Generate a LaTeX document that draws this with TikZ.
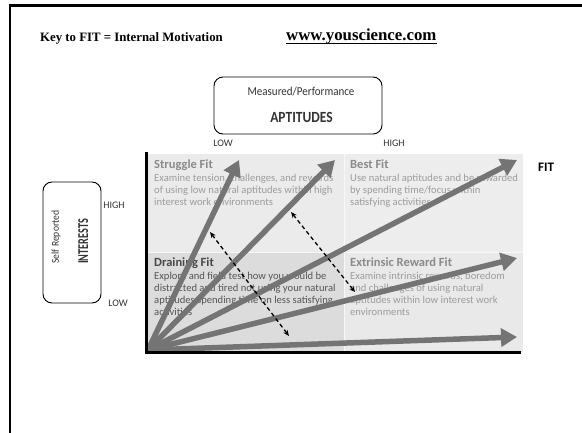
\documentclass[tikz,border=0pt]{standalone}
\usepackage{fontspec}
\setmainfont{Liberation Serif}
\newfontfamily\calib{Carlito}
\usetikzlibrary{arrows.meta}
\definecolor{qlt}{HTML}{EBEBEB}
\definecolor{qrt}{HTML}{EDEDED}
\definecolor{qlb}{HTML}{DCDCDC}
\definecolor{qrb}{HTML}{E9E9E9}
\definecolor{fitarrow}{HTML}{747474}
\definecolor{qtitle}{HTML}{8A8A8A}
\definecolor{qbody}{HTML}{9C9C9C}
\definecolor{dtitle}{HTML}{474747}
\definecolor{dbody}{HTML}{555555}
\tikzset{
  fitarr/.style={draw=fitarrow,line width=5.5pt,-{Triangle[length=16pt,width=18pt]}},
  dasharr/.style={draw=black,line width=1.3pt,dash pattern=on 4pt off 3pt,{Stealth[length=6pt,width=5pt]}-{Stealth[length=6pt,width=5pt]}},
  keybox/.style={draw=black,line width=0.9pt,rounded corners=9pt,inner sep=0pt},
  qtitlefont/.style={font=\calib\bfseries\fontsize{12.5}{14}\selectfont},
  qbodyfont/.style={font=\calib\fontsize{10.6}{12}\selectfont,align=left},
  axlab/.style={font=\calib\fontsize{10}{12}\selectfont,text=black!80},
}
\begin{document}
\begin{tikzpicture}[x=1pt,y=-1pt]
\useasboundingbox (0,0) rectangle (582,433);
% frame
\draw[line width=2.5pt] (10,433) -- (10,5.5) -- (582,5.5);
% header
\node[anchor=base west,inner sep=0pt,font=\bfseries\fontsize{12.8}{15}\selectfont] (key) at (40,42) {Key to FIT = Internal Motivation};
\node[anchor=base west,inner sep=0pt,font=\bfseries\fontsize{16.8}{19}\selectfont] (url) at (286,41) {www.youscience.com};
\draw[line width=1.5pt] ([yshift=-2.6pt]url.base west) -- ([yshift=-2.6pt]url.base east);
% quadrants
\fill[qlt] (147,154) rectangle (344,252);
\fill[qrt] (344,154) rectangle (523,252);
\fill[qlb] (147,252) rectangle (344,352);
\fill[qrb] (344,252) rectangle (523,352);
\draw[white!97!black,line width=0.6pt] (344,154) -- (344,352);
\draw[white!97!black,line width=0.6pt] (147,252) -- (523,252);
% quadrant texts
\node[qtitlefont,text=qtitle,anchor=base west,inner sep=0pt] (sft) at (154,169) {Struggle Fit};
\node[qbodyfont,text=qbody,anchor=north west,inner sep=0pt] (sfb) at (154,173.5) {Examine tension, challenges, and rewards\\of using low natural aptitudes within high\\interest work environments};
\node[qtitlefont,text=qtitle,anchor=base west,inner sep=0pt] (bft) at (350,169) {Best Fit};
\node[qbodyfont,text=qbody,anchor=north west,inner sep=0pt] (bfb) at (350,173.5) {Use natural aptitudes and be rewarded\\by spending time/focus within\\satisfying activities};
\node[qtitlefont,text=dtitle,anchor=base west,inner sep=0pt] (dft) at (154,267) {Draining Fit};
\node[qbodyfont,text=dbody,anchor=north west,inner sep=0pt] (dfb) at (154,271.5) {Explore and field test how you would be\\distracted and tired not using your natural\\aptitudes spending time on less satisfying\\activities};
\node[qtitlefont,text=qtitle,anchor=base west,inner sep=0pt] (eft) at (350,267) {Extrinsic Reward Fit};
\node[qbodyfont,text=qbody,anchor=north west,inner sep=0pt] (efb) at (350,271.5) {Examine intrinsic rewards, boredom\\and challenges of using natural\\aptitudes within low interest work\\environments};
% arrows
\coordinate (O) at (148,350);
\coordinate (t1) at (239,160);
\coordinate (t2) at (335,160);
\coordinate (t3) at (517,160);
\coordinate (t4) at (517,258);
\coordinate (t5) at (517,337);
\draw[fitarr] (O) -- (t1);
\draw[fitarr] (O) -- (t2);
\draw[fitarr] (O) -- (t3);
\draw[fitarr] (O) -- (t4);
\draw[fitarr] (O) -- (t5);
% dashed arrows
\coordinate (da1) at (210,232);
\coordinate (da2) at (289,336);
\coordinate (db1) at (291,212);
\coordinate (db2) at (355,292);
\draw[dasharr] (da1) -- (da2);
\draw[dasharr] (db1) -- (db2);
% axes
\draw[line width=3pt] (146.5,152) -- (146.5,353) -- (521,353);
% aptitudes box
\node[keybox,minimum width=168pt,minimum height=57pt] (apt) at (298,105.5) {};
\node[font=\calib\fontsize{11}{13}\selectfont,text=black!80] (aptsub) at (301,92) {\scalebox{1}[1.1]{Measured/Performance}};
\node[font=\calib\bfseries\fontsize{13.5}{15}\selectfont,text=black!80] (aptmain) at (301.5,117) {\scalebox{1}[1.15]{APTITUDES}};
\node[axlab] (alow) at (223,143) {LOW};
\node[axlab] (ahigh) at (394,143) {HIGH};
% interests box
\node[keybox,minimum width=58pt,minimum height=121pt] (int) at (72,242.5) {};
\node[font=\calib\fontsize{10.5}{12}\selectfont,text=black!80,rotate=90] (intsub) at (56,237) {\scalebox{0.92}[1]{Self Reported}};
\node[font=\calib\bfseries\fontsize{15}{17}\selectfont,text=black!80,rotate=90] (intmain) at (83.3,241.5) {\scalebox{0.68}[1]{INTERESTS}};
\node[axlab] (ihigh) at (114,205) {HIGH};
\node[axlab] (ilow) at (118,303) {LOW};
% FIT label
\node[font=\calib\bfseries\fontsize{13}{15}\selectfont] (fit) at (546,167) {FIT};
\end{tikzpicture}
\end{document}
